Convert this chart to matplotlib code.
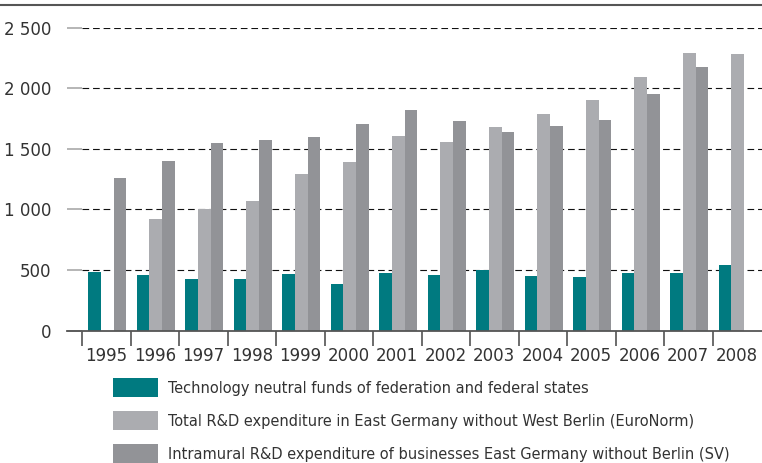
#!/usr/bin/env python3

import numpy as np
import matplotlib
matplotlib.use('Agg')
import matplotlib.pyplot as plt
from matplotlib.lines import Line2D

# Values
years = ['1995', '1996', '1997', '1998', '1999', '2000', '2001',
         '2002', '2003', '2004', '2005', '2006', '2007', '2008']
funds = [483, 459, 425, 425, 467, 384, 475, 459, 500, 450, 442, 475, 475, 541]
total_rd = [np.nan, 920, 1004, 1070, 1293, 1392, 1607, 1558, 1682, 1789,
            1905, 2095, 2293, 2285]
business_rd = [1260, 1400, 1549, 1574, 1599, 1707, 1822, 1731, 1640, 1690,
               1740, 1955, 2178, np.nan]
labels = ['Technology neutral funds of federation and federal states',
          'Total R&D expenditure in East Germany without West Berlin (EuroNorm)',
          'Intramural R&D expenditure of businesses East Germany without Berlin (SV)']
colors = ['#007a80', '#abacb0', '#929397']
yticks = [0, 500, 1000, 1500, 2000, 2500]

plt.rcParams['font.family'] = ['DejaVu Sans']
text_color = '#333333'

W, H = 762, 463
fig = plt.figure(figsize=(W / 100, H / 100), dpi=100)
ax = fig.add_axes([67 / W, (H - 330.5) / H, (762 - 67) / W, (330.5 - 28) / H])

x = np.arange(len(years))
bw = 0.26
handles = []
for i, (vals, c) in enumerate(zip([funds, total_rd, business_rd], colors)):
    h = ax.bar(x + (i - 1) * bw + 0.02, vals, width=bw, color=c, linewidth=0, zorder=3)
    handles.append(h)

ax.set_xlim(-0.81, 13.52)
ax.set_ylim(0, 2500)

# dashed grid lines starting at the first category boundary
ax.hlines(yticks[1:], -0.5, 13.52, colors='#111111', linestyles=(0, (6, 3.5)),
          linewidth=0.8, zorder=1)

for s in ['top', 'right', 'left']:
    ax.spines[s].set_visible(False)
ax.spines['bottom'].set_color('#555555')
ax.spines['bottom'].set_linewidth(1.3)
ax.spines['bottom'].set_zorder(4)

ax.set_yticks(yticks)
ax.set_yticklabels([f'{v:,}'.replace(',', ' ') for v in yticks])
ax.tick_params(axis='y', direction='in', length=10.8, width=1.3, color='#b0b0b0',
               pad=11, labelsize=12, labelcolor=text_color)

ax.set_xticks(x - 0.5)
ax.set_xticklabels([])
ax.set_xticks(x, minor=True)
ax.set_xticklabels(years, minor=True)
ax.tick_params(axis='x', which='major', direction='out', length=10.8, width=1.1,
               color='#444444')
ax.tick_params(axis='x', which='minor', length=0, pad=12, labelsize=12,
               labelcolor=text_color)

# top rule of the figure
fig.add_artist(Line2D([0, 1], [1 - 5 / H, 1 - 5 / H], color='#555555', linewidth=1.5))

fs = 11.7
fig.legend(handles, labels, loc='upper left', bbox_to_anchor=(113 / W, 1 - 378 / H),
           frameon=False, handlelength=2.77, handleheight=1.45,
           handletextpad=0.6, labelspacing=0.85, borderpad=0, borderaxespad=0,
           labelcolor=text_color,
           prop={'family': 'DejaVu Sans', 'stretch': 'condensed', 'size': fs})

fig.savefig('out.png', dpi=100)
